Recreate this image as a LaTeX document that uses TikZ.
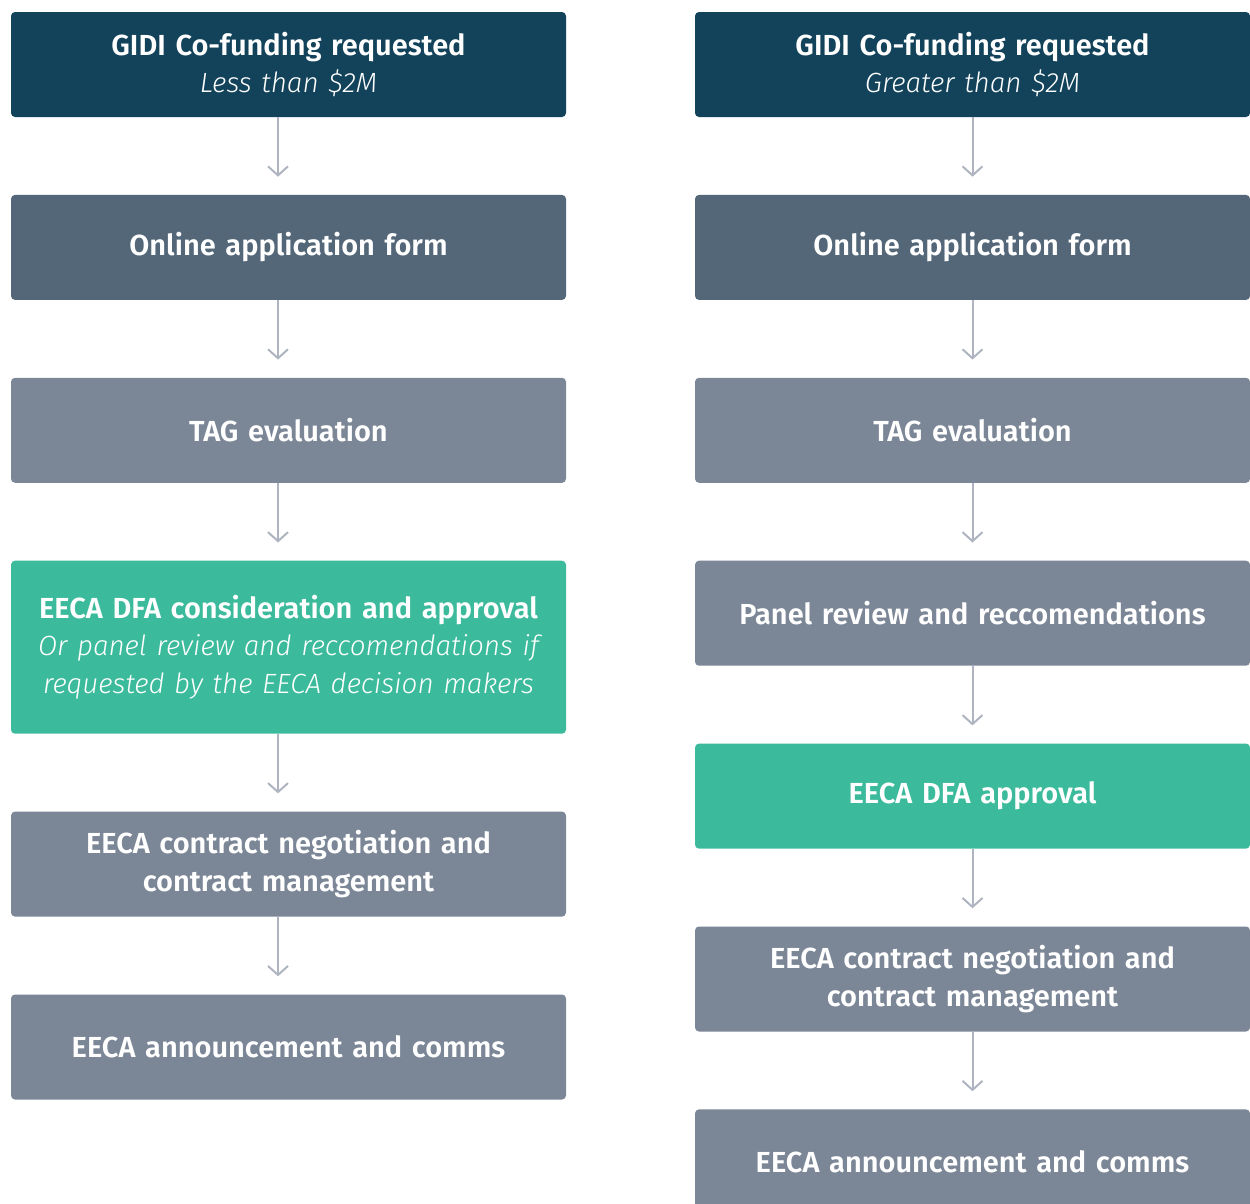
\documentclass[tikz,border=0pt]{standalone}
\usepackage{fontspec}
\setmainfont{Fira Sans}[BoldFont={Fira Sans SemiBold},ItalicFont={Fira Sans Light Italic}]
\usetikzlibrary{positioning,arrows.meta}

\definecolor{gidiblue}{HTML}{12435A}
\definecolor{formslate}{HTML}{536779}
\definecolor{stepgrey}{HTML}{7B8696}
\definecolor{dfagreen}{HTML}{3CBB9C}
\definecolor{flowgrey}{HTML}{AEB4C0}

\tikzset{
  stage/.style={rectangle, rounded corners=4pt, minimum width=555pt, minimum height=105pt,
    text width=545pt, align=center, text=white, inner sep=0pt,
    font=\fontsize{29}{37.5}\selectfont\bfseries},
  head/.style={stage, fill=gidiblue},
  form/.style={stage, fill=formslate},
  grey/.style={stage, fill=stepgrey},
  green/.style={stage, fill=dfagreen},
  flow/.style={draw=flowgrey, line width=2pt, shorten >=18pt,
    -{Straight Barb[length=9pt, width=20pt, line width=2pt]}},
}
\newcommand{\sub}[1]{\\{\fontsize{27.8}{37.5}\selectfont\mdseries\itshape #1}}

\begin{document}
\begin{tikzpicture}[node distance=77.5pt]
    \useasboundingbox (0,0) rectangle (1250pt,-1203pt);

    % less than $2M
    \node[head] (L1) at (288.5pt,-64.5pt) {GIDI Co-funding requested\sub{Less than \$2M}};
    \node[form, below=of L1] (L2) {Online application form};
    \node[grey, below=of L2] (L3) {TAG evaluation};
    \node[green, below=of L3, minimum height=173pt] (L4) {EECA DFA consideration and approval\sub{Or panel review and reccomendations if\\requested by the EECA decision makers}};
    \node[grey, below=of L4] (L5) {EECA contract negotiation and\\contract management};
    \node[grey, below=of L5] (L6) {EECA announcement and comms};

    % greater than $2M
    \node[head] (R1) at (972.5pt,-64.5pt) {GIDI Co-funding requested\sub{Greater than \$2M}};
    \node[form, below=of R1] (R2) {Online application form};
    \node[grey, below=of R2] (R3) {TAG evaluation};
    \node[grey, below=of R3] (R4) {Panel review and reccomendations};
    \node[green, below=of R4] (R5) {EECA DFA approval};
    \node[grey, below=of R5] (R6) {EECA contract negotiation and\\contract management};
    \node[grey, below=of R6] (R7) {EECA announcement and comms};

    \foreach \a/\b in {L1/L2, L2/L3, L3/L4, L4/L5, L5/L6}
        \draw[flow] ([xshift=-10.5pt]\a.south) -- ([xshift=-10.5pt]\b.north);
    \foreach \a/\b in {R1/R2, R2/R3, R3/R4, R4/R5, R5/R6, R6/R7}
        \draw[flow] (\a.south) -- (\b.north);
\end{tikzpicture}
\end{document}
